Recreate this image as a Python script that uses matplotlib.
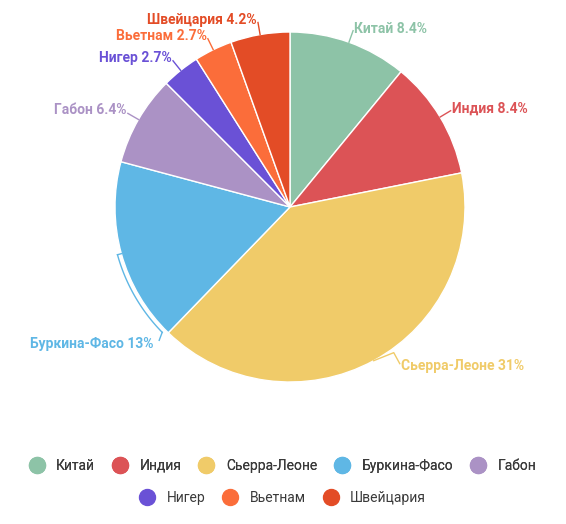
import numpy as np
import matplotlib.pyplot as plt
from matplotlib.lines import Line2D

plt.rcParams['font.family'] = ['Roboto', 'DejaVu Sans']

# Данные
countries = ['Китай', 'Индия', 'Сьерра-Леоне', 'Буркина-Фасо', 'Габон',
             'Нигер', 'Вьетнам', 'Швейцария']
shares = [8.4, 8.4, 31, 13, 6.4, 2.7, 2.7, 4.2]
share_labels = ['8.4%', '8.4%', '31%', '13%', '6.4%', '2.7%', '2.7%', '4.2%']
colors = ['#8dc3a7', '#dc5356', '#f0cb69', '#5fb7e5', '#ab92c5',
          '#6a51d6', '#fb6d3a', '#e34c26']

W, H = 566, 524
fig = plt.figure(figsize=(W / 100, H / 100), dpi=100)
ax = fig.add_axes([0, 0, 1, 1])
ax.set_xlim(0, W)
ax.set_ylim(0, H)
ax.set_aspect('equal')
ax.axis('off')

cx, cy, R = 290, H - 207, 175
wedges, _ = ax.pie(shares, colors=colors, startangle=90, counterclock=False,
                   center=(cx, cy), radius=R,
                   wedgeprops=dict(edgecolor='white', linewidth=1))
ax.set_xlim(0, W)
ax.set_ylim(0, H)

lab_kw = dict(fontsize=10, fontweight='bold')

# подписи снаружи круга
for w, name, lab, col in zip(wedges, countries, share_labels, colors):
    mid = np.deg2rad((w.theta1 + w.theta2) / 2)
    ex, ey = cx + R * np.cos(mid), cy + R * np.sin(mid)
    text = f'{name} {lab}'
    if name == 'Буркина-Фасо':
        # подпись сдвинута вниз, линия идёт по дуге
        a = np.deg2rad(np.linspace((w.theta1 + w.theta2) / 2, w.theta2 - 1.5, 40))
        ax.plot(cx + (R + 4) * np.cos(a), cy + (R + 4) * np.sin(a),
                color=col, lw=1)
        ax.plot([ex, cx + (R + 4) * np.cos(a[0])],
                [ey, cy + (R + 4) * np.sin(a[0])], color=col, lw=1)
        tx, ty = cx + (R + 4) * np.cos(a[-1]), cy + (R + 4) * np.sin(a[-1])
        ax.plot([tx, tx - 3], [ty, ty - 8], color=col, lw=1)
        ax.text(tx - 9, ty - 12, text, ha='right', va='center', color=col, **lab_kw)
        continue
    if name == 'Сьерра-Леоне':
        lx, ly = ex + 20, ey + 8
        ax.plot([ex, lx, lx + 6], [ey, ly, ly - 11], color=col, lw=1)
        ax.text(lx + 7, ly - 13, text, ha='left', va='center', color=col, **lab_kw)
        continue
    lx, ly = cx + 1.07 * R * np.cos(mid), cy + 1.07 * R * np.sin(mid)
    ax.plot([ex, lx], [ey, ly], color=col, lw=1)
    if np.cos(mid) >= 0:
        ax.text(lx + 1, ly + 2, text, ha='left', va='center', color=col, **lab_kw)
    else:
        ax.text(lx - 1, ly + 3, text, ha='right', va='center', color=col, **lab_kw)

# легенда в две строки
handles = [Line2D([], [], marker='o', ls='', markersize=11.5,
                  markerfacecolor=c, markeredgecolor=c) for c in colors]
leg_kw = dict(frameon=False, handlelength=1.0, handletextpad=0.9,
              columnspacing=1.3, prop={'size': 10, 'weight': 'normal'})
leg1 = fig.legend(handles[:5], countries[:5], ncol=5, loc='center',
                  bbox_to_anchor=(0.5, 1 - 466 / H), labelcolor='#3a3a3a', **leg_kw)
fig.add_artist(leg1)
fig.legend(handles[5:], countries[5:], ncol=3, loc='center',
           bbox_to_anchor=(0.5, 1 - 498 / H), labelcolor='#3a3a3a', **leg_kw)

plt.savefig('out.png', dpi=100)
